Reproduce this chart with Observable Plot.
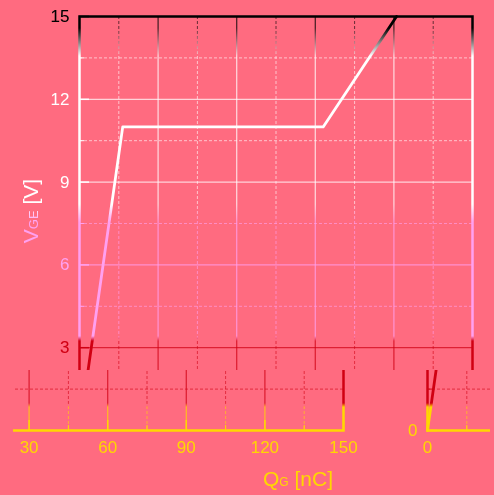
<!DOCTYPE html>
<html><head><meta charset="utf-8">
<script src="https://cdn.jsdelivr.net/npm/d3@7"></script>
<script src="https://cdn.jsdelivr.net/npm/@observablehq/plot@0.6"></script>
<style>html,body{margin:0;padding:0;background:#FF6B80;overflow:hidden;}</style>
</head><body><div id="chart"></div>
<script>
// Gate charge curve (QG in nC, VGE in V)
const chargeQ = [0, 16.5, 93, 121];
const gateV = [0, 11, 11, 15];
// axis ticks
const xMajor = [0, 30, 60, 90, 120, 150];
const xMinor = [15, 45, 75, 105, 135];
const yMajor = [0, 3, 6, 9, 12, 15];
const yMinor = [1.5, 4.5, 7.5, 10.5, 13.5];
// titles
const yTitle = ["V", "GE", " [V]"];
const xTitle = ["Q", "G", " [nC]"];

const curve = chargeQ.map((q, i) => ({q, v: gateV[i]}));
const W = "white";

const svg = Plot.plot({
  width: 494, height: 495,
  marginLeft: 79, marginRight: 22, marginTop: 16, marginBottom: 65,
  style: {background: "#FF6B80", color: "white", fontFamily: "'Liberation Sans', Arial, sans-serif", fontSize: "17px"},
  x: {domain: [0, 150]},
  y: {domain: [0, 15]},
  marks: [
    Plot.ruleX(xMinor, {stroke: W, strokeOpacity: 0.6, strokeDasharray: "3,2"}),
    Plot.ruleY(yMinor, {stroke: W, strokeOpacity: 0.6, strokeDasharray: "3,2"}),
    Plot.ruleX(xMajor.slice(1, -1), {stroke: W, strokeOpacity: 0.7, strokeWidth: 1.3}),
    Plot.ruleY(yMajor.slice(1, -1), {stroke: W, strokeOpacity: 0.7, strokeWidth: 1.3}),
    Plot.axisX(xMajor, {tickSize: -10, strokeWidth: 1.5, tickFormat: () => "", label: null, stroke: W}),
    Plot.axisX(xMinor, {tickSize: -5, tickFormat: () => "", label: null, stroke: W}),
    Plot.axisY(yMajor, {tickSize: -10, strokeWidth: 1.5, tickFormat: () => "", label: null, stroke: W}),
    Plot.axisY(yMinor, {tickSize: -5, tickFormat: () => "", label: null, stroke: W}),
    Plot.axisX(xMajor, {tickSize: 0, tickPadding: 10, label: null, fill: W, fontSize: 17}),
    Plot.axisY(yMajor, {tickSize: 0, tickPadding: 10, label: null, fill: W, fontSize: 17}),
    Plot.frame({stroke: W, strokeWidth: 2.5}),
    Plot.line(curve, {x: "q", y: "v", stroke: W, strokeWidth: 2.8})
  ]
});

const s = d3.select(svg);

// titles
const yt = s.append("text").attr("transform", "translate(38,211) rotate(-90)")
  .attr("text-anchor", "middle").attr("fill", W).attr("font-size", 21);
yt.append("tspan").text(yTitle[0]);
yt.append("tspan").attr("font-size", 13).text(yTitle[1]);
yt.append("tspan").text(yTitle[2]);
const xt = s.append("text").attr("x", 298).attr("y", 486)
  .attr("text-anchor", "middle").attr("fill", W).attr("font-size", 21);
xt.append("tspan").text(xTitle[0]);
xt.append("tspan").attr("font-size", 12).text(xTitle[1]);
xt.append("tspan").text(xTitle[2]);

// banded colouring: the drawn chart becomes a mask over a vertically banded paint
const defs = s.insert("defs", ":first-child");
const grad = defs.append("linearGradient").attr("id", "vgrad")
  .attr("gradientUnits", "userSpaceOnUse").attr("x1", 0).attr("y1", 0).attr("x2", 0).attr("y2", 495);
[[0, "#000000"], [28, "#000000"], [56, "#FFFFFF"], [204, "#FFFFFF"], [222, "#FFA0F0"],
 [336, "#FFA0F0"], [341, "#D00012"], [403, "#D00012"], [407, "#FFD700"], [495, "#FFD700"]]
  .forEach(([y, c]) => grad.append("stop").attr("offset", y / 495).attr("stop-color", c));
const mask = defs.append("mask").attr("id", "chartMask")
  .attr("maskUnits", "userSpaceOnUse").attr("x", 0).attr("y", 0).attr("width", 494).attr("height", 495);
[...svg.childNodes].forEach(n => {
  const t = (n.tagName || "").toLowerCase();
  if (t !== "style" && t !== "defs") mask.node().appendChild(n);
});
const cm = defs.append("clipPath").attr("id", "clipMain");
cm.append("rect").attr("x", 0).attr("y", 0).attr("width", 494).attr("height", 370);
cm.append("rect").attr("x", 0).attr("y", 462).attr("width", 494).attr("height", 33);
defs.append("clipPath").attr("id", "clipA").append("rect")
  .attr("x", 142).attr("y", 370).attr("width", 360).attr("height", 92);
defs.append("clipPath").attr("id", "clipB").append("rect")
  .attr("x", 50).attr("y", 370).attr("width", 92).attr("height", 92);

function paint(g) {
  g.append("rect").attr("x", 0).attr("y", 0).attr("width", 494).attr("height", 495)
    .attr("fill", "url(#vgrad)").attr("mask", "url(#chartMask)");
}
paint(s.append("g").attr("clip-path", "url(#clipMain)"));
paint(s.append("g").attr("transform", "translate(-129,0)").append("g").attr("clip-path", "url(#clipA)"));
paint(s.append("g").attr("transform", "translate(348,0)").append("g").attr("clip-path", "url(#clipB)"));

document.getElementById("chart").appendChild(svg);
</script>
</body></html>
